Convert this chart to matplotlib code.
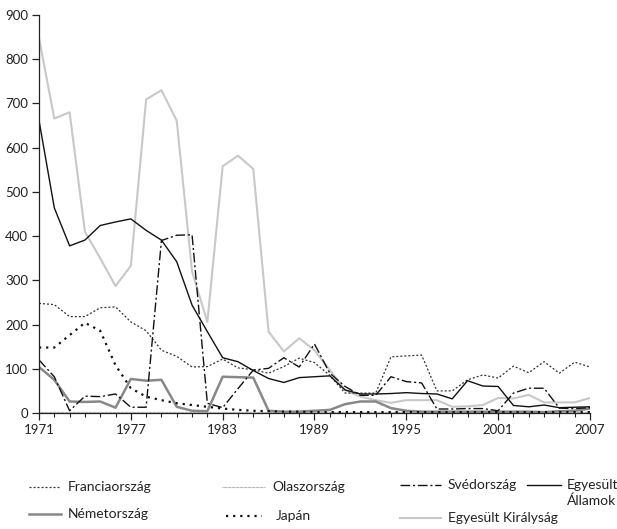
import numpy as np
import matplotlib.pyplot as plt
from matplotlib.lines import Line2D

plt.rcParams['font.family'] = ['Lato', 'DejaVu Sans']

years = np.arange(1971, 2008)

# adatsorok
francia = [248, 245, 218, 218, 238, 240, 206, 186, 142, 128, 104, 105, 122, 102, 98, 90,
           105, 124, 114, 85, 45, 45, 45, 127, 129, 131, 50, 50, 75, 86, 79, 106, 91, 116,
           90, 115, 104]
olasz = [3, 3, 3, 3, 3, 3, 3, 3, 3, 3, 3, 3, 3, 3, 3, 3, 3, 3, 3, 3, 3, 3, 3, 3, 3, 3,
         3, 3, 3, 3, 3, 3, 3, 3, 3, 3, 3]
sved = [120, 82, 5, 38, 37, 43, 13, 13, 390, 402, 403, 22, 12, 55, 97, 101, 125, 104, 156,
        90, 60, 40, 40, 82, 71, 68, 9, 9, 10, 10, 5, 45, 56, 56, 11, 10, 12]
usa = [662, 464, 378, 391, 424, 432, 439, 413, 391, 342, 244, 184, 125, 116, 96, 78, 69, 80,
       82, 84, 52, 43, 43, 44, 46, 44, 43, 32, 73, 61, 60, 17, 14, 18, 12, 13, 14]
nemet = [104, 75, 26, 25, 26, 12, 77, 73, 75, 14, 5, 4, 82, 81, 80, 5, 3, 3, 5, 7, 20, 26,
         26, 11, 5, 3, 3, 3, 3, 3, 3, 3, 3, 2, 4, 5, 10]
japan = [148, 148, 176, 204, 186, 108, 56, 37, 29, 22, 18, 14, 10, 7, 5, 4, 3, 3, 2, 2, 2,
         2, 2, 2, 2, 2, 2, 2, 2, 2, 2, 2, 2, 2, 2, 2, 2]
uk = [848, 666, 680, 410, 350, 287, 333, 709, 730, 661, 320, 206, 558, 582, 552, 184, 139,
      169, 142, 97, 52, 37, 29, 23, 29, 29, 29, 14, 15, 18, 34, 33, 41, 24, 24, 24, 34]

styles = {
    'Franciaország': dict(color='#333333', lw=0.9, ls=(0, (1.6, 1.6))),
    'Olaszország': dict(color='#888888', lw=0.8, ls=(0, (0.6, 0.6))),
    'Svédország': dict(color='#111111', lw=1.0, ls=(0, (7, 2, 1.5, 2))),
    'Egyesült\nÁllamok': dict(color='#111111', lw=1.0, ls='-'),
    'Németország': dict(color='#888888', lw=1.8, ls='-'),
    'Japán': dict(color='#111111', lw=1.6, ls=(0, (1, 2.2))),
    'Egyesült Királyság': dict(color='#c8c8c8', lw=1.5, ls='-'),
}
series = {
    'Egyesült Királyság': uk,
    'Németország': nemet,
    'Olaszország': olasz,
    'Franciaország': francia,
    'Japán': japan,
    'Svédország': sved,
    'Egyesült\nÁllamok': usa,
}

fig = plt.figure(figsize=(6.17, 5.29), dpi=100)
ax = fig.add_axes([0.0632, 0.2193, 0.893, 0.7523])

for name, vals in series.items():
    ax.plot(years, vals, **styles[name])

ax.set_xlim(1971, 2007)
ax.set_ylim(0, 900)
ax.set_xticks(np.arange(1971, 2008, 6))
ax.set_xticks(years, minor=True)
ax.set_yticks(np.arange(0, 901, 100))
ax.spines['top'].set_visible(False)
ax.spines['right'].set_visible(False)
for s in ['left', 'bottom']:
    ax.spines[s].set_color('#222222')
    ax.spines[s].set_linewidth(0.9)
ax.tick_params(axis='both', which='major', direction='out', length=5, width=0.9,
               colors='#222222', labelsize=9.5, pad=3)
ax.tick_params(axis='x', which='minor', direction='out', length=3, width=0.8, colors='#222222')

# jelmagyarázat
legend_items = [
    ('Franciaország', 29, 61, 68, 487),
    ('Olaszország', 222, 265, 272, 487),
    ('Svédország', 400, 441, 448, 485),
    ('Egyesült\nÁllamok', 527, 561, 567, 485),
    ('Németország', 29, 61, 68, 514),
    ('Japán', 226, 262, 276, 516),
    ('Egyesült Királyság', 400, 441, 448, 518),
]
W, H = 617, 529
for name, x0, x1, xt, y in legend_items:
    st = styles[name]
    fig.add_artist(Line2D([x0 / W, x1 / W], [1 - y / H, 1 - y / H], transform=fig.transFigure,
                          color=st['color'], lw=st['lw'], ls=st['ls']))
    va = 'center'
    yy = y
    if '\n' in name:
        va = 'top'
        yy = y - 6
    fig.text(xt / W, 1 - yy / H, name, fontsize=10, color='#222222', va=va, ha='left',
             linespacing=1.35)

fig.savefig('out.png', dpi=100)
